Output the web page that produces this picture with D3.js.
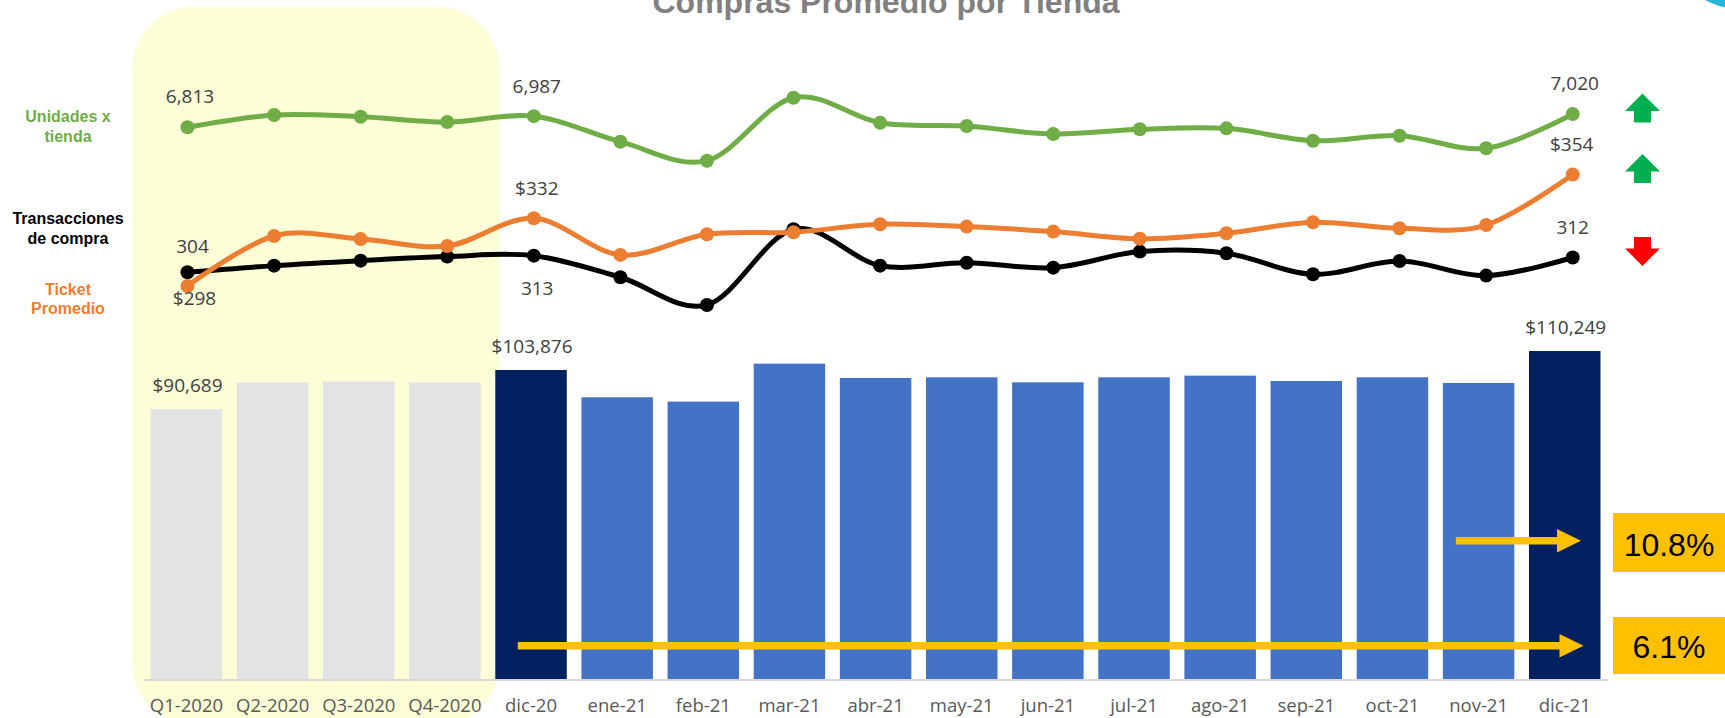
<!DOCTYPE html>
<html>
<head>
<meta charset="utf-8">
<script src="https://cdn.jsdelivr.net/npm/d3@7"></script>
<style>
  html, body { margin: 0; padding: 0; background: #ffffff; }
  svg { display: block; }
</style>
</head>
<body>
<svg id="chart" width="1725" height="718"></svg>
<script>
// ---------------- DATA ----------------
const categories = ["Q1-2020","Q2-2020","Q3-2020","Q4-2020","dic-20","ene-21","feb-21","mar-21","abr-21","may-21","jun-21","jul-21","ago-21","sep-21","oct-21","nov-21","dic-21"];
const compras = [90689, 99620, 99960, 99620, 103876, 94700, 93240, 106000, 101190, 101410, 99730, 101410, 101970, 100180, 101410, 99510, 110249];
const unidades = [6813, 7004, 6978, 6895, 6987, 6589, 6293, 7274, 6885, 6833, 6709, 6782, 6797, 6604, 6682, 6486, 7020];
const ticket = [298, 323.1, 321.6, 318.1, 332, 313.6, 324, 325, 329, 327.8, 325.3, 321.7, 324.5, 330, 327, 328.6, 354];
const transacciones = [304, 307.6, 310.3, 312.5, 313, 301.3, 286.3, 327.3, 307.6, 309.2, 306.5, 315.2, 314.3, 302.9, 310.1, 302.2, 312];
const labeledIdx = [0, 4, 16];
const title = "Compras Promedio por Tienda";
const seriesNames = { unidades: ["Unidades x", "tienda"], transacciones: ["Transacciones", "de compra"], ticket: ["Ticket", "Promedio"] };
const growth = ["10.8%", "6.1%"];
const trend = ["up", "up", "down"];

// ---------------- SETUP ----------------
const svg = d3.select("#chart");
const fmtInt = d3.format(",");
const fmtMoney = v => "$" + d3.format(",.0f")(v);

const xBand = d3.scaleBand().domain(categories).range([143.4, 1607.8]).paddingInner(0.17).paddingOuter(0.085);
const xPt = d3.scalePoint().domain(categories).range([187.5, 1572.7]);
const yBar = d3.scaleLinear().domain([0, 120000]).range([679, 322]);
const yUni = d3.scaleLinear().domain([6000, 7500]).range([179.5, 83.2]);
const yTic = d3.scaleLinear().domain([250, 400]).range([381.6, 82.8]);
const yTra = d3.scaleLinear().domain([250, 350]).range([371.9, 187.4]);

const C = {
  green: "#70ad47", orange: "#ed7d31", black: "#000000",
  gray: "#e3e3e3", navy: "#002060", blue: "#4472c4",
  label: "#404040", axis: "#595959", yellow: "#ffc000"
};
const numFont = "'Open Sans', 'Liberation Sans', sans-serif";

// ---------------- BACKGROUND DECOR ----------------
svg.append("circle").attr("cx", 1745).attr("cy", -75).attr("r", 85).attr("fill", "#25b5d8");

// highlight of 2020 quarters
const hlX0 = xBand(categories[0]) - 18.5;
const hlX1 = xBand(categories[3]) + xBand.bandwidth() + 19;
svg.append("rect")
  .attr("x", hlX0).attr("y", 7).attr("width", hlX1 - hlX0).attr("height", 718)
  .attr("rx", 62).attr("ry", 62).attr("fill", "#fdfdd8");

// title
svg.append("text").attr("x", 886).attr("y", 12.5).attr("text-anchor", "middle")
  .attr("font-family", "'Liberation Sans', Arial, sans-serif").attr("font-weight", "bold")
  .attr("font-size", 32).attr("fill", "#808080").text(title);

// ---------------- BARS ----------------
function barColor(d, i) {
  if (i < 4) return C.gray;
  if (i === 4 || i === categories.length - 1) return C.navy;
  return C.blue;
}
svg.append("g").selectAll("rect").data(compras).join("rect")
  .attr("x", (d, i) => xBand(categories[i]))
  .attr("y", d => yBar(d))
  .attr("width", xBand.bandwidth())
  .attr("height", d => yBar(0) - yBar(d))
  .attr("fill", barColor);

// axis line + labels
const xAxis = d3.axisBottom(xBand).tickSize(0).tickPadding(0);
const gx = svg.append("g").attr("transform", `translate(0,${yBar(0)})`).call(xAxis);
gx.select(".domain").attr("stroke", "#d9d9d9").attr("stroke-width", 2).attr("d", `M${xBand.range()[0]},1H${xBand.range()[1]}`);
gx.selectAll(".tick text").attr("y", 33).attr("dy", 0)
  .attr("font-family", numFont).attr("font-size", 18.5).attr("fill", C.axis);

// bar labels
svg.append("g").selectAll("text").data(labeledIdx).join("text")
  .attr("x", i => xBand(categories[i]) + xBand.bandwidth() / 2 + 1)
  .attr("y", i => yBar(compras[i]) - 17)
  .attr("text-anchor", "middle").attr("font-family", numFont).attr("font-size", 19)
  .attr("fill", C.label).text(i => fmtMoney(compras[i]));

// ---------------- LINES ----------------
const curve = d3.curveCardinal.tension(0);
function drawLine(values, yS, color) {
  const line = d3.line().x((d, i) => xPt(categories[i])).y(d => yS(d)).curve(curve);
  const g = svg.append("g");
  g.append("path").datum(values).attr("d", line).attr("fill", "none")
    .attr("stroke", color).attr("stroke-width", 5).attr("stroke-linejoin", "round");
  g.selectAll("circle").data(values).join("circle")
    .attr("cx", (d, i) => xPt(categories[i])).attr("cy", d => yS(d)).attr("r", 7).attr("fill", color);
}
drawLine(unidades, yUni, C.green);
drawLine(transacciones, yTra, C.black);
drawLine(ticket, yTic, C.orange);

// line value labels
const lineLabels = [
  { vals: unidades, y: yUni, f: fmtInt, dy: [-24, -23.5, -24], dx: [2.5, 3, 2] },
  { vals: ticket, y: yTic, f: fmtMoney, dy: [19, -23.3, -23.3], dx: [7, 3, -1] },
  { vals: transacciones, y: yTra, f: fmtInt, dy: [-19, 39, -23.7], dx: [5, 3.4, 0] }
];
lineLabels.forEach(L => {
  svg.append("g").selectAll("text").data(labeledIdx).join("text")
    .attr("x", (i, k) => xPt(categories[i]) + L.dx[k])
    .attr("y", (i, k) => L.y(L.vals[i]) + L.dy[k])
    .attr("text-anchor", "middle").attr("font-family", numFont).attr("font-size", 19)
    .attr("fill", C.label).text(i => L.f(L.vals[i]));
});

// series names on the left
const nameDefs = [
  { lines: seriesNames.unidades, color: C.green, y: yUni(unidades[0]) - 5 },
  { lines: seriesNames.transacciones, color: C.black, y: yTra(transacciones[0]) - 48 },
  { lines: seriesNames.ticket, color: C.orange, y: yTic(ticket[0]) + 9 }
];
nameDefs.forEach(n => {
  const t = svg.append("text").attr("x", 68).attr("y", n.y).attr("text-anchor", "middle")
    .attr("font-family", "'Liberation Sans', Arial, sans-serif").attr("font-weight", "bold")
    .attr("font-size", 16).attr("fill", n.color);
  n.lines.forEach((s, k) => t.append("tspan").attr("x", 68).attr("dy", k === 0 ? 0 : 19.5).text(s));
});

// trend arrows at the right
const lastIdx = categories.length - 1;
const trendY = [yUni(unidades[lastIdx]), yTic(ticket[lastIdx]), yTra(transacciones[lastIdx])];
trendY.forEach((yy, k) => {
  const cx = 1642.5, cy = yy - 6, h = 29, hw = 17.5, sw = 8.5, hh = 17.6;
  const top = cy - h / 2, bot = cy + h / 2;
  let pts;
  if (trend[k] === "up") {
    pts = [[cx, top], [cx + hw, top + hh], [cx + sw, top + hh], [cx + sw, bot], [cx - sw, bot], [cx - sw, top + hh], [cx - hw, top + hh]];
  } else {
    pts = [[cx - sw, top], [cx + sw, top], [cx + sw, bot - hh], [cx + hw, bot - hh], [cx, bot], [cx - hw, bot - hh], [cx - sw, bot - hh]];
  }
  svg.append("polygon").attr("points", pts.map(p => p.join(",")).join(" "))
    .attr("fill", trend[k] === "up" ? "#00b050" : "#ff0000");
});

// ---------------- GROWTH ARROWS + BOXES ----------------
function hArrow(x0, x1, y, color) {
  const headL = 24, headH = 11.7, th = 3.8;
  svg.append("polygon").attr("points", [
    [x0, y - th], [x1 - headL, y - th], [x1 - headL, y - headH], [x1, y],
    [x1 - headL, y + headH], [x1 - headL, y + th], [x0, y + th]
  ].map(p => p.join(",")).join(" ")).attr("fill", color);
}
const xDic21 = xBand(categories[lastIdx]);
hArrow(xBand(categories[lastIdx - 1]) + 13, xDic21 + 52, 540.7, C.yellow);
hArrow(xBand(categories[4]) + 22.5, xDic21 + 54.5, 645.7, C.yellow);

const boxes = [{ y: 513, h: 59, t: growth[0], by: 555.5 }, { y: 617, h: 57, t: growth[1], by: 658 }];
boxes.forEach(b => {
  svg.append("rect").attr("x", 1613).attr("y", b.y).attr("width", 120).attr("height", b.h).attr("fill", C.yellow);
  svg.append("text").attr("x", 1669).attr("y", b.by).attr("text-anchor", "middle")
    .attr("font-family", "'Liberation Sans', Arial, sans-serif").attr("font-size", 32)
    .attr("fill", "#000").text(b.t);
});
</script>
</body>
</html>
